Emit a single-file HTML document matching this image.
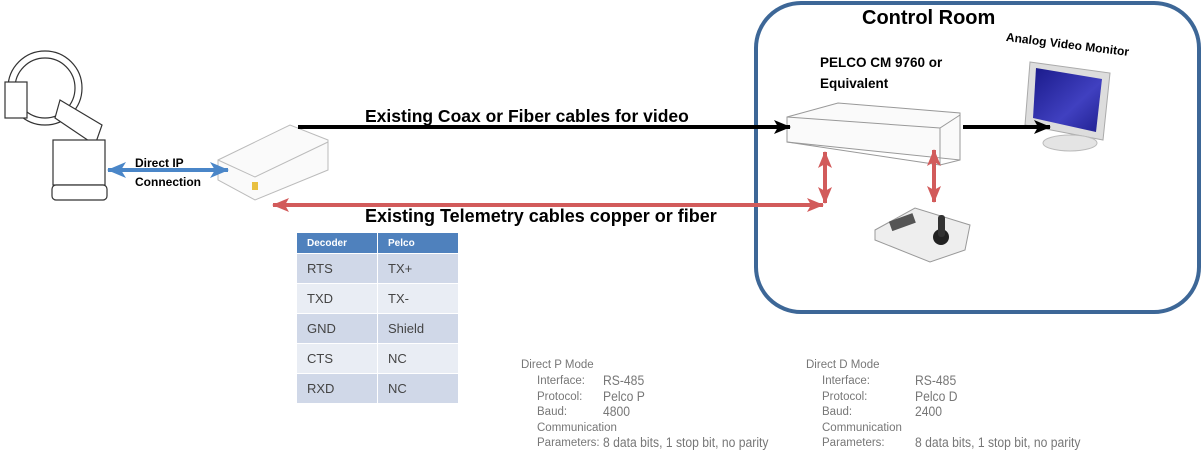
<!DOCTYPE html>
<html><head><meta charset="utf-8"><style>
body{margin:0;width:1203px;height:468px;background:#fff;position:relative;overflow:hidden;font-family:"Liberation Sans",sans-serif}
.t{position:absolute;white-space:nowrap}
.b{font-weight:bold;color:#000}
.g{color:#777;font-size:11.5px;line-height:15.5px}
.v{color:#777;font-size:13.5px;line-height:15.5px;transform:scaleX(0.9);transform-origin:left top}
table{position:absolute;left:296px;top:232px;border-collapse:collapse;font-size:13px;color:#444}
td{height:29px;padding:0 0 0 10px;border:1px solid #fff}
</style></head><body>
<svg width="1203" height="468" style="position:absolute;left:0;top:0">
<defs>
<marker id="ak" markerUnits="userSpaceOnUse" markerWidth="18" markerHeight="18" refX="16" refY="9" orient="auto"><path d="M0,2 L17,9 L0,16 L4,9 Z" fill="#000"/></marker>
<marker id="ar" markerUnits="userSpaceOnUse" markerWidth="18" markerHeight="18" refX="16" refY="9" orient="auto-start-reverse"><path d="M0,2 L17,9 L0,16 L4,9 Z" fill="#d25b5b"/></marker>
<marker id="ab" markerUnits="userSpaceOnUse" markerWidth="20" markerHeight="20" refX="18" refY="10" orient="auto-start-reverse"><path d="M0,2 L19,10 L0,18 L5,10 Z" fill="#4a86c8"/></marker>
<linearGradient id="scr" x1="0" y1="0" x2="1" y2="1"><stop offset="0" stop-color="#1a1a8a"/><stop offset="0.6" stop-color="#4040c0"/><stop offset="1" stop-color="#202090"/></linearGradient>
</defs>
<rect x="756" y="3" width="443" height="309" rx="45" fill="none" stroke="#3d6797" stroke-width="4"/>
<g fill="#fff" stroke="#333" stroke-width="1.2">
<circle cx="45" cy="88" r="37"/>
<circle cx="45" cy="88" r="30" fill="none"/>
<rect x="5" y="82" width="22" height="36"/>
<path d="M60 100 L102 125 L95 145 L55 118 Z"/>
<rect x="53" y="140" width="52" height="45"/>
<rect x="52" y="185" width="55" height="15" rx="4"/>
</g>
<g fill="#fafafa" stroke="#bbb">
<path d="M218 160 L290 125 L328 140 L328 170 L255 200 L218 180 Z"/>
<path d="M218 160 L255 177 L328 142" fill="none"/>
<rect x="252" y="182" width="6" height="8" fill="#e8c040" stroke="none"/>
</g>
<g fill="#fafafa" stroke="#999">
<path d="M787 117 L838 103 L960 113 L960 160 L787 142 Z"/>
<path d="M787 117 L940 128 L960 115 M940 128 L940 165 L960 160" fill="none"/>
<path d="M787 142 L940 165" fill="none"/>
</g>
<g>
<path d="M1030 62 L1110 73 L1103 140 L1025 125 Z" fill="#ddd" stroke="#aaa"/>
<path d="M1036 68 L1102 79 L1096 132 L1033 118 Z" fill="url(#scr)"/>
<ellipse cx="1070" cy="143" rx="27" ry="8" fill="#e4e4e4" stroke="#bbb"/>
</g>
<g>
<path d="M875 230 L915 208 L970 225 L965 250 L930 262 L875 240 Z" fill="#eee" stroke="#999"/>
<rect x="890" y="218" width="25" height="10" fill="#555" transform="rotate(-20 900 223)"/>
<circle cx="941" cy="237" r="8" fill="#222"/>
<rect x="938" y="215" width="7" height="22" rx="3" fill="#333"/>
</g>
<line x1="298" y1="127" x2="790" y2="127" stroke="#000" stroke-width="4" marker-end="url(#ak)"/>
<line x1="963" y1="127" x2="1050" y2="127" stroke="#000" stroke-width="4" marker-end="url(#ak)"/>
<line x1="273" y1="205" x2="823" y2="205" stroke="#d25b5b" stroke-width="4" marker-start="url(#ar)" marker-end="url(#ar)"/>
<line x1="825" y1="152" x2="825" y2="203" stroke="#d25b5b" stroke-width="4" marker-start="url(#ar)" marker-end="url(#ar)"/>
<line x1="934" y1="150" x2="934" y2="202" stroke="#d25b5b" stroke-width="4" marker-start="url(#ar)" marker-end="url(#ar)"/>
<line x1="108" y1="170" x2="228" y2="170" stroke="#4a86c8" stroke-width="4" marker-start="url(#ab)" marker-end="url(#ab)"/>
</svg>
<div class="t b" style="left:862px;top:7px;font-size:20px">Control Room</div>
<div class="t b" style="left:1007px;top:30px;font-size:12px;transform:rotate(7deg);transform-origin:left top">Analog Video Monitor</div>
<div class="t b" style="left:820px;top:52px;font-size:13.5px;line-height:21px">PELCO CM 9760 or<br>Equivalent</div>
<div class="t b" style="left:365px;top:106px;font-size:17.5px">Existing Coax or Fiber cables for video</div>
<div class="t b" style="left:365px;top:206px;font-size:18px">Existing Telemetry cables copper or fiber</div>
<div class="t b" style="left:135px;top:154px;font-size:12px;line-height:19px">Direct IP<br>Connection</div>
<table>
<tr style="background:#4f81bd;color:#fff;font-size:10px;font-weight:bold"><td style="height:20px;width:70px">Decoder</td><td style="height:20px;width:70px">Pelco</td></tr>
<tr style="background:#d0d8e8"><td>RTS</td><td>TX+</td></tr>
<tr style="background:#e9edf4"><td>TXD</td><td>TX-</td></tr>
<tr style="background:#d0d8e8"><td>GND</td><td>Shield</td></tr>
<tr style="background:#e9edf4"><td>CTS</td><td>NC</td></tr>
<tr style="background:#d0d8e8"><td>RXD</td><td>NC</td></tr>
</table>
<div class="t g" style="left:521px;top:358px">Direct P Mode</div>
<div class="t g" style="left:537px;top:374px">Interface:<br>Protocol:<br>Baud:<br>Communication<br>Parameters:</div>
<div class="t v" style="left:603px;top:373px">RS-485<br>Pelco P<br>4800<br><br>8 data bits, 1 stop bit, no parity</div>
<div class="t g" style="left:806px;top:358px">Direct D Mode</div>
<div class="t g" style="left:822px;top:374px">Interface:<br>Protocol:<br>Baud:<br>Communication<br>Parameters:</div>
<div class="t v" style="left:915px;top:373px">RS-485<br>Pelco D<br>2400<br><br>8 data bits, 1 stop bit, no parity</div>
</body></html>
